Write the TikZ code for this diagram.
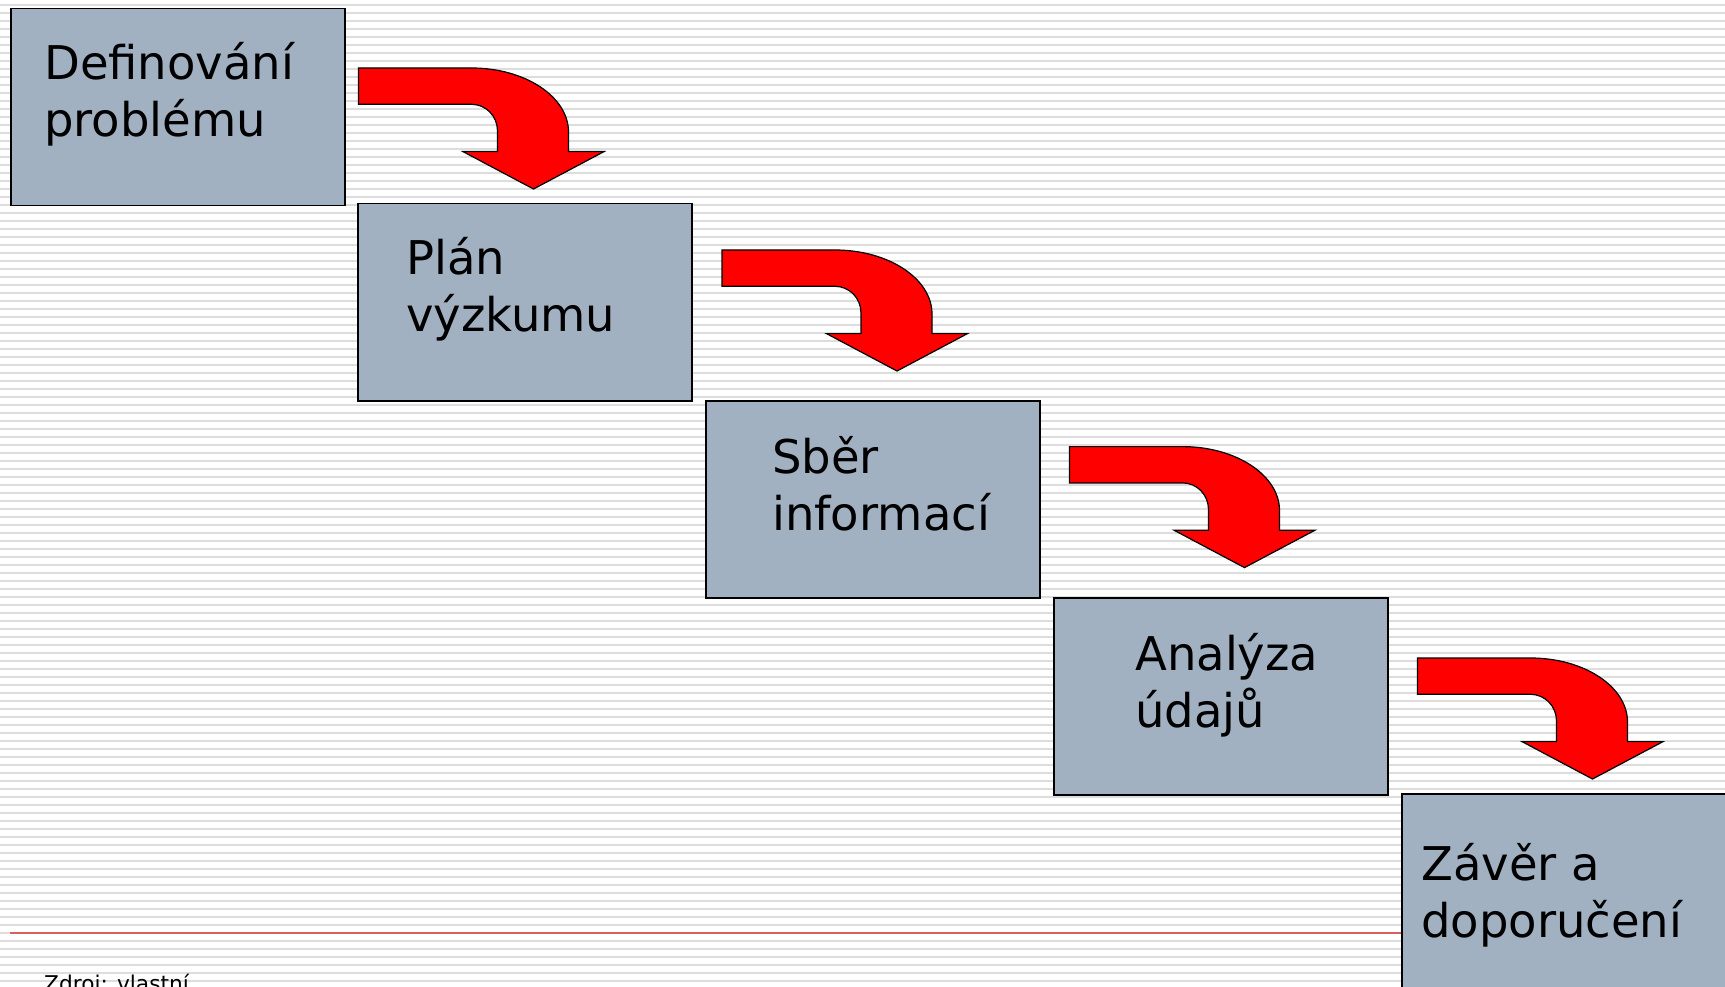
\documentclass[tikz,border=0pt]{standalone}
\usepackage{fontspec}
\setmainfont{DejaVu Sans}
\usepackage{xcolor}
\usepackage{tikz}
\usetikzlibrary{calc}
\usetikzlibrary{positioning}

\definecolor{boxgray}{RGB}{162,177,194}
\definecolor{stripegray}{RGB}{221,221,221}
\definecolor{footred}{RGB}{214,96,96}

\begin{document}
\begin{tikzpicture}[x=1pt,y=-1pt]
    \tikzstyle{stepbox}=[draw=black,line width=1.5pt,fill=boxgray,minimum width=334pt,minimum height=197pt,anchor=north west,inner sep=0pt]
    \tikzstyle{steptext}=[anchor=base west,inner sep=0pt,align=left,font=\fontsize{46.5}{57}\selectfont]
    \tikzstyle{bendarrow}=[draw=black,line width=1.2pt,fill=red,line join=miter]

    \useasboundingbox (0,0) rectangle (1725,987) ;
    \clip (0,0) rectangle (1725,987) ;

    \foreach \k in {0,...,122}{%
      \draw[stripegray,line width=2pt] (0,4.7+8*\k) -- (1725,4.7+8*\k) ;}

    \node[stepbox] (definovani) at (10,8) {} ;
    \node[stepbox] (plan) at (357,203) {} ;
    \node[stepbox] (sber) at (705,400) {} ;
    \node[stepbox] (analyza) at (1053,597) {} ;
    \node[stepbox] (zaver) at (1401,793) {} ;

    \draw[footred,line width=2.2pt] (10,932.7) -- (zaver.west |- 0,932.7) ;

    % base anchor sits on the second line
    \node[steptext] (tdefinovani) at (44,137) {Definování\\problému} ;
    \node[steptext] (tplan) at (406,331) {Plán\\výzkumu} ;
    \node[steptext] (tsber) at (772,530) {Sběr\\informací} ;
    \node[steptext] (tanalyza) at (1135,727) {Analýza\\údajů} ;
    \node[steptext] (tzaver) at (1421,937) {Závěr a\\doporučení} ;

    \node[anchor=base west,inner sep=0pt,font=\fontsize{21.7}{26}\selectfont] (zdroj) at (44,991) {Zdroj: vlastní} ;

    \newcommand{\curvedarrow}[1]{%
      \draw[bendarrow,shift={(#1)}] (0,0) -- (113,0)
        .. controls (166.6,0) and (210,28.7) .. (210,64) -- (210,83.6)
        -- (245.5,83.6) -- (175,121) -- (104.5,83.6) -- (139,83.6) -- (139,63)
        .. controls (139,48.1) and (127.4,36.3) .. (113,36.3) -- (0,36.3) -- cycle ;}

    \path (definovani.north east) ++(13,60) coordinate (a1) ;
    \path (plan.north east) ++(29.5,47) coordinate (a2) ;
    \path (sber.north east) ++(29,46.6) coordinate (a3) ;
    \path (analyza.north east) ++(29,61) coordinate (a4) ;

    \curvedarrow{a1}
    \curvedarrow{a2}
    \curvedarrow{a3}
    \curvedarrow{a4}

  \end{tikzpicture}
\end{document}
